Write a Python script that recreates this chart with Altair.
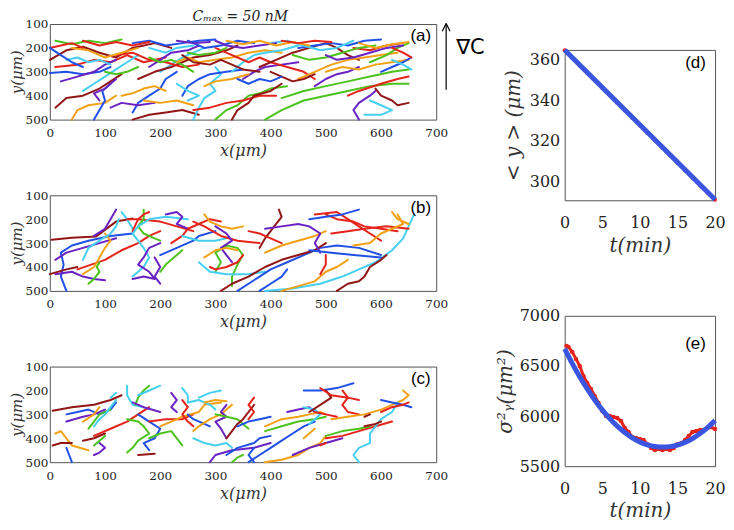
import altair as alt
import pandas as pd

COLOR_NAMES = ["blue", "orange", "green", "cyan", "purple", "red", "darkred"]
COLOR_HEX = ["#2050e6", "#f2a115", "#4cc21d", "#45d0f2", "#6b22c2", "#e5231a", "#931616"]

X_TICKS = [0, 100, 200, 300, 400, 500, 600, 700]
Y_TICKS = [100, 200, 300, 400, 500]

TRAJ_A = [
    ("darkred", [(0,250),(30,210),(60,195),(90,220),(120,240),(150,200),(190,180),(220,200)]),
    ("red", [(10,280),(50,270),(80,250),(110,260),(140,230),(170,260),(210,240)]),
    ("blue", [(0,305),(30,300),(60,310),(90,300),(110,280)]),
    ("purple", [(20,340),(50,320),(80,300),(100,270),(120,250)]),
    ("green", [(10,170),(40,185),(70,170),(100,180),(130,165)]),
    ("orange", [(40,500),(50,460),(70,440),(100,430),(120,400)]),
    ("darkred", [(10,450),(30,410),(60,400),(90,370),(110,340),(130,310)]),
    ("cyan", [(60,380),(80,350),(100,320),(120,290),(140,260),(160,230)]),
    ("blue", [(80,500),(90,460),(100,420),(95,380),(110,350)]),
    ("purple", [(90,420),(80,390),(100,370),(120,330)]),
    ("blue", [(150,470),(160,430),(180,400),(200,370),(210,330),(230,300)]),
    ("orange", [(130,400),(150,390),(170,370),(190,360),(210,380)]),
    ("darkred", [(150,500),(180,480),(210,470),(240,460),(270,480)]),
    ("cyan", [(200,300),(220,270),(240,240),(260,220),(280,200)]),
    ("darkred", [(160,330),(190,300),(220,280),(240,260),(260,240),(290,230),(320,210),(340,190)]),
    ("red", [(120,230),(150,220),(180,250),(210,260),(240,280),(270,270)]),
    ("blue", [(150,180),(180,170),(210,190),(240,180),(270,170),(300,165)]),
    ("purple", [(180,280),(200,250),(220,220),(250,210),(270,190)]),
    ("green", [(180,240),(200,260),(220,250),(240,270),(260,300)]),
    ("orange", [(230,260),(250,240),(270,260),(300,250),(330,240),(360,220),(390,210),(420,220)]),
    ("cyan", [(260,500),(270,450),(280,410),(300,380),(290,350),(310,310),(300,280)]),
    ("green", [(300,500),(320,460),(340,440),(360,400),(380,390),(400,370),(430,360)]),
    ("red", [(260,460),(290,450),(320,430),(350,420),(380,400),(410,400)]),
    ("blue", [(240,400),(250,360),(270,330),(290,310),(320,300),(350,290)]),
    ("darkred", [(330,500),(340,460),(360,430),(370,400),(400,380),(420,350)]),
    ("purple", [(350,330),(370,300),(390,280),(420,270),(450,260)]),
    ("cyan", [(330,300),(350,260),(370,230),(390,220),(420,210),(450,190)]),
    ("green", [(390,500),(420,460),(460,420),(500,400),(540,380),(580,360),(620,350),(650,350)]),
    ("green", [(420,410),(460,380),(500,360),(540,340),(580,320),(620,300),(650,290)]),
    ("red", [(300,200),(330,230),(360,260),(380,240),(400,260),(430,280),(460,300),(480,330)]),
    ("darkred", [(380,280),(410,250),(440,220),(470,200),(500,180),(520,200),(540,230),(560,250)]),
    ("blue", [(450,200),(480,190),(510,180),(540,190),(570,170),(600,165)]),
    ("orange", [(450,330),(480,300),(510,270),(540,250),(570,240),(600,230),(630,220)]),
    ("purple", [(560,500),(550,460),(560,430),(580,400),(590,380)]),
    ("cyan", [(580,420),(600,440),(620,460),(600,480),(570,480)]),
    ("darkred", [(590,370),(600,400),(620,420),(630,440),(650,430)]),
    ("red", [(540,400),(560,380),(600,350),(630,330),(650,320)]),
    ("purple", [(480,360),(500,330),(520,310),(540,300),(560,280)]),
    ("orange", [(500,300),(530,280),(560,290),(590,270),(620,260),(650,250)]),
    ("cyan", [(400,180),(430,170),(460,190),(490,210),(520,200),(550,170)]),
    ("blue", [(600,300),(620,280),(640,260),(655,240)]),
    ("green", [(580,260),(610,230),(630,200),(650,180)]),
    ("red", [(550,200),(580,210),(610,190),(640,180)]),
    ("darkred", [(400,300),(420,320),(440,340),(460,330),(480,310)]),
    ("orange", [(40,200),(70,210),(100,240),(130,220),(160,200)]),
    ("blue", [(250,170),(280,200),(310,190),(340,170),(370,180)]),
    ("purple", [(300,170),(320,190),(350,200),(380,190),(410,180)]),
    ("red", [(0,200),(20,190),(40,180),(60,200)]),
    ("cyan", [(30,250),(50,240),(70,260),(90,250),(110,270)]),
    ("green", [(100,300),(120,310),(140,300),(160,280)]),
    ("orange", [(280,360),(300,340),(330,330),(360,310)]),
    ("purple", [(110,450),(130,430),(160,440),(190,430)]),
    ("red", [(60,170),(90,190),(120,175),(150,190),(180,175)]),
    ("orange", [(320,170),(350,185),(380,170),(410,190),(440,175),(470,190)]),
    ("cyan", [(180,200),(210,220),(230,200),(260,190)]),
    ("green", [(440,230),(470,250),(500,240),(530,220),(560,200),(590,190)]),
    ("purple", [(500,230),(520,250),(550,240),(580,220),(610,200),(640,190)]),
    ("blue", [(340,330),(360,350),(380,330),(400,340),(420,320)]),
    ("cyan", [(230,350),(250,380),(270,400),(250,420)]),
    ("darkred", [(240,230),(260,260),(290,270),(310,250),(330,270),(350,290),(380,300)]),
    ("orange", [(170,420),(200,430),(230,420),(260,440)]),
    ("blue", [(0,200),(20,230),(40,260),(60,280)]),
    ("red", [(620,200),(640,220),(655,240)]),
    ("orange", [(560,180),(590,200),(620,185),(650,175)]),
    ("cyan", [(620,250),(640,270),(655,290)]),
    ("purple", [(230,170),(260,180),(290,175)]),
    ("green", [(250,220),(270,230),(300,220),(320,200)]),
    ("red", [(420,170),(450,180),(480,170),(510,175)]),
]

TRAJ_B = [
    ("darkred", [(3,286),(40,278),(84,272),(120,210),(150,197)]),
    ("blue", [(30,500),(20,440),(25,390),(20,340),(40,310),(70,290),(110,270),(150,260)]),
    ("purple", [(10,370),(30,340),(60,320),(90,300),(120,280)]),
    ("purple", [(10,430),(40,420),(60,440),(80,450),(100,455)]),
    ("darkred", [(0,430),(30,410),(50,400)]),
    ("red", [(50,410),(100,370),(130,330),(160,300),(180,270),(200,250)]),
    ("orange", [(60,430),(80,400),(90,360),(100,320),(110,290),(100,260)]),
    ("green", [(70,470),(80,450),(90,420),(85,400),(90,380)]),
    ("cyan", [(60,370),(70,320),(90,290),(110,260),(120,230),(125,200)]),
    ("purple", [(120,160),(110,200),(100,240),(80,270)]),
    ("cyan", [(130,170),(140,200),(150,240)]),
    ("red", [(140,200),(160,200),(200,210),(230,230),(260,250)]),
    ("green", [(170,160),(170,200),(160,230),(170,260),(190,280),(200,290)]),
    ("red", [(150,250),(160,200),(170,180),(180,170)]),
    ("cyan", [(150,440),(170,400),(180,360),(170,320),(160,290),(150,260),(160,230),(180,200),(210,190),(250,200)]),
    ("purple", [(150,450),(170,440),(190,450),(180,420),(160,390),(170,360),(180,320),(200,300)]),
    ("blue", [(200,350),(230,320),(260,290),(270,270),(300,250)]),
    ("purple", [(210,180),(230,170),(240,190),(230,220),(250,240)]),
    ("green", [(200,420),(210,390),(220,370),(230,350),(240,330)]),
    ("purple", [(200,470),(190,440),(200,400),(190,360)]),
    ("red", [(220,300),(240,270),(250,240),(270,220),(290,200),(310,210)]),
    ("orange", [(280,180),(290,210),(310,230),(330,240),(350,230)]),
    ("cyan", [(240,270),(270,290),(300,290),(320,280)]),
    ("red", [(260,210),(280,230),(310,270),(340,290),(380,300)]),
    ("green", [(300,420),(310,380),(300,340),(320,310),(340,320),(350,350),(340,390),(330,440),(330,480)]),
    ("cyan", [(270,380),(290,420),(320,430),(360,430),(390,420)]),
    ("purple", [(300,230),(320,260),(330,290),(310,320),(320,350),(330,380)]),
    ("red", [(290,400),(300,410),(320,400),(340,380),(350,350)]),
    ("orange", [(280,360),(300,330),(320,320),(340,330)]),
    ("blue", [(340,500),(360,470),(380,440),(400,410),(430,380),(460,350),(490,320),(520,310),(560,320),(600,350)]),
    ("darkred", [(310,500),(330,470),(360,440),(390,400),(420,370),(450,350),(480,330),(500,300)]),
    ("darkred", [(380,320),(390,280),(400,250),(410,220),(420,190),(415,160)]),
    ("blue", [(380,500),(400,470),(420,440),(430,410)]),
    ("cyan", [(390,500),(440,490),(490,470),(530,440),(560,410),(590,380),(620,330),(640,280),(650,230),(660,180)]),
    ("orange", [(390,340),(420,310),(450,290),(480,270),(500,250)]),
    ("orange", [(420,500),(450,480),(480,460),(500,420),(520,400),(540,370)]),
    ("purple", [(390,240),(420,230),(450,220),(470,230),(490,260),(480,300),(490,340)]),
    ("red", [(420,300),(400,280),(380,260),(360,250)]),
    ("red", [(500,180),(520,200),(550,210),(570,230),(600,240),(630,250)]),
    ("red", [(480,180),(520,170),(540,200),(560,230),(580,260),(600,290)]),
    ("blue", [(470,200),(500,190),(530,180),(560,160)]),
    ("red", [(510,260),(540,250),(570,240),(610,230),(650,240)]),
    ("orange", [(550,310),(580,300),(600,260),(620,240),(640,220),(630,180)]),
    ("orange", [(620,170),(630,200),(650,220)]),
    ("red", [(500,350),(500,390),(490,430)]),
    ("darkred", [(520,500),(540,470),(560,460),(570,440),(580,400),(600,370),(610,350)]),
    ("blue", [(470,330),(510,340),(550,350),(600,360)]),
]

TRAJ_C = [
    ("darkred", [(5,285),(40,270),(80,260),(110,240),(130,220)]),
    ("blue", [(30,300),(50,290),(70,280),(90,300),(110,280),(120,250)]),
    ("purple", [(30,330),(60,310),(80,300),(100,280)]),
    ("orange", [(10,380),(20,370),(30,400),(40,430),(70,450)]),
    ("darkred", [(5,430),(20,420),(40,420)]),
    ("blue", [(30,440),(35,470),(40,500)]),
    ("purple", [(80,470),(90,460),(100,440),(90,420)]),
    ("darkred", [(60,410),(80,400),(100,380)]),
    ("red", [(80,390),(110,360),(140,330),(160,300),(180,270)]),
    ("green", [(70,360),(80,330),(90,300),(110,280)]),
    ("cyan", [(80,350),(90,320),(100,300),(110,270),(120,240)]),
    ("orange", [(90,270),(80,300),(60,330)]),
    ("green", [(80,430),(90,410),(100,390)]),
    ("cyan", [(110,230),(120,210)]),
    ("cyan", [(140,180),(140,220),(150,260),(170,270)]),
    ("green", [(180,180),(170,200),(160,230),(155,260)]),
    ("purple", [(150,250),(170,270),(200,290)]),
    ("cyan", [(200,180),(180,200),(160,220)]),
    ("green", [(140,320),(160,330),(170,350),(180,380),(160,410),(150,440),(140,460)]),
    ("blue", [(160,300),(180,330),(200,360),(190,400),(170,420),(180,450)]),
    ("darkred", [(160,470),(190,465)]),
    ("green", [(180,400),(200,380),(220,370),(230,400),(240,430)]),
    ("red", [(180,330),(210,320),(240,320),(260,300)]),
    ("orange", [(200,350),(220,330),(240,310),(270,290),(280,260),(310,250)]),
    ("purple", [(220,210),(230,240),(220,270),(230,290)]),
    ("cyan", [(240,190),(250,220),(250,250),(270,240),(290,260),(300,280)]),
    ("red", [(240,240),(250,270),(240,300),(250,330),(260,350)]),
    ("blue", [(250,300),(260,320),(280,340),(290,350)]),
    ("orange", [(260,370),(270,350),(290,320),(310,300),(320,280),(330,260)]),
    ("cyan", [(270,230),(290,210),(310,200)]),
    ("orange", [(280,250),(300,240),(320,245)]),
    ("cyan", [(260,400),(280,420),(300,430),(320,420),(330,440)]),
    ("purple", [(290,500),(300,470),(330,450),(370,440),(400,420)]),
    ("purple", [(320,260),(310,290),(320,310),(300,330),(310,360),(320,400)]),
    ("green", [(300,300),(320,310),(340,320),(350,340),(360,360)]),
    ("darkred", [(320,400),(330,370),(340,340),(350,320),(360,290),(370,260)]),
    ("blue", [(340,350),(360,330),(380,320),(400,310)]),
    ("red", [(370,230),(360,260),(370,290),(360,320)]),
    ("blue", [(320,470),(340,440),(370,420),(380,400),(400,390)]),
    ("blue", [(360,500),(380,470),(400,440),(420,410),(440,380),(460,350),(480,330)]),
    ("blue", [(370,500),(360,470),(370,440)]),
    ("green", [(330,500),(340,480),(350,470)]),
    ("purple", [(430,290),(450,280),(470,270),(480,290)]),
    ("green", [(390,370),(420,350),(450,330),(480,320),(500,310)]),
    ("orange", [(390,350),(420,320),(450,310),(470,300),(490,290),(500,300)]),
    ("cyan", [(460,270),(480,280),(490,300),(480,320),(470,340)]),
    ("orange", [(390,500),(420,490),(450,470),(470,440),(490,420),(500,390)]),
    ("orange", [(460,400),(470,380),(480,360)]),
    ("purple", [(440,470),(470,440),(500,420),(530,400)]),
    ("red", [(500,400),(530,390),(560,370),(590,350),(620,330)]),
    ("green", [(500,390),(530,370),(560,360),(580,350)]),
    ("red", [(490,430),(500,420)]),
    ("blue", [(460,200),(490,200),(520,190),(550,170)]),
    ("darkred", [(470,290),(490,260),(510,230),(500,200)]),
    ("red", [(490,190),(510,220),(540,230),(560,240)]),
    ("red", [(530,200),(540,230),(530,260),(540,290),(560,300)]),
    ("orange", [(510,320),(540,310),(570,300),(600,280),(620,260),(640,240),(650,220),(640,200)]),
    ("red", [(480,290),(500,300),(520,310)]),
    ("cyan", [(560,500),(550,470),(560,440),(580,420),(580,380),(590,350),(600,320),(620,290),(630,250)]),
    ("darkred", [(570,350),(590,340),(600,330)]),
    ("blue", [(600,240),(620,250),(640,260),(655,270)]),
    ("red", [(600,290),(620,270),(640,260),(650,250)]),
    ("darkred", [(570,310),(580,300)]),
]

T_D = [0, 1, 2, 3, 4, 5, 6, 7, 8, 9, 10, 11, 12, 13, 14, 15, 16, 17, 18, 19, 20]
Y_D = [364.8, 361.1, 357.3, 353.6, 349.9, 346.2, 342.5, 338.8, 335.0, 331.3, 327.6,
       323.9, 320.2, 316.5, 312.8, 309.0, 305.3, 301.6, 297.9, 294.2, 290.9]
FIT_D_T = [0, 20]
FIT_D_Y = [365, 291]

T_E = [0.25, 0.5, 1, 1.5, 2, 2.5, 3, 3.5, 4, 4.5, 5, 5.5, 6, 6.5, 7, 7.5, 8, 8.5, 9, 9.5, 10,
       10.5, 11, 11.5, 12, 12.5, 13, 13.5, 14, 14.5, 15, 15.5, 16, 16.5, 17, 17.5, 18, 18.5, 19, 19.5, 20]
Y_E = [6700, 6690, 6640, 6570, 6500, 6400, 6330, 6270, 6200, 6130, 6050, 6000, 6000, 5990, 5980,
       5950, 5880, 5840, 5790, 5780, 5770, 5760, 5720, 5680, 5660, 5670, 5660, 5670, 5660, 5680,
       5720, 5730, 5760, 5800, 5840, 5850, 5860, 5860, 5880, 5890, 5870]
FIT_E_T = [0, 1, 2, 3, 4, 5, 6, 7, 8, 9, 10, 11, 12, 13, 14, 15, 16, 17, 18, 19, 20]
FIT_E_Y = [6670, 6525, 6392, 6270, 6160, 6061, 5974, 5899, 5835, 5783, 5742, 5713, 5696,
           5690, 5695, 5710, 5737, 5775, 5825, 5885, 5955]

SERIF = "DejaVu Serif"
SANS = "Liberation Sans"
FRAME = "#555555"

LX = alt.X("x:Q", scale=alt.Scale(domain=[0, 700], nice=False),
           axis=alt.Axis(values=X_TICKS, title="x(μm)", labelFontSize=12, titleFontSize=16,
                         titlePadding=4, labelPadding=8, labelOverlap=False, labelFlush=False))
LY = alt.Y("y:Q", scale=alt.Scale(domain=[500, 100], nice=False),
           axis=alt.Axis(values=Y_TICKS, title="y(μm)", labelFontSize=12, titleFontSize=15,
                         titlePadding=1, labelPadding=2, labelOverlap=False, labelFlush=False))


def traj_df(traj):
    rows = []
    for i, (c, pts) in enumerate(traj):
        for j, (x, y) in enumerate(pts):
            rows.append({"id": i, "o": j, "x": x, "y": y, "c": c})
    return pd.DataFrame(rows)


def left_panel(traj, label, title=None, arrow=False):
    lines = alt.Chart(traj_df(traj)).mark_line(strokeWidth=2, strokeJoin="round", strokeCap="round").encode(
        x=LX, y=LY,
        color=alt.Color("c:N", scale=alt.Scale(domain=COLOR_NAMES, range=COLOR_HEX), legend=None),
        detail="id:N", order="o:Q")
    lab = alt.Chart(pd.DataFrame({"x": [672], "y": [152], "t": [label]})).mark_text(
        font=SANS, fontSize=17, color="black").encode(x=LX, y=LY, text="t:N")
    layers = [lines, lab]
    if title:
        ttl = alt.Chart(pd.DataFrame({"x": [345], "y": [70], "t": [title]})).mark_text(
            font=SERIF, fontStyle="italic", fontSize=14, color="#222").encode(x=LX, y=LY, text="t:N")
        layers.append(ttl)
    if arrow:
        shaft = alt.Chart(pd.DataFrame({"x": [718], "y": [375], "y2": [98]})).mark_rule(
            color="black", strokeWidth=1.2).encode(x=LX, y=LY, y2="y2:Q")
        head = alt.Chart(pd.DataFrame({"x": [718, 718], "x2": [711, 725], "y": [98, 98], "y2": [130, 130]})).mark_rule(
            color="black", strokeWidth=1.2).encode(x=LX, x2="x2:Q", y=LY, y2="y2:Q")
        grad = alt.Chart(pd.DataFrame({"x": [762], "y": [200], "t": ["∇C"]})).mark_text(
            font="DejaVu Sans", fontSize=21, color="black").encode(x=LX, y=LY, text="t:N")
        layers += [shaft, head, grad]
    return alt.layer(*layers).properties(width=388, height=96)


pa = left_panel(TRAJ_A, "(a)", title="Cₘₐₓ = 50 nM", arrow=True)
pb = left_panel(TRAJ_B, "(b)")
pc = left_panel(TRAJ_C, "(c)")
left = alt.vconcat(pa, pb, pc, spacing=76, bounds="flush")

TX = alt.X("t:Q", scale=alt.Scale(domain=[0, 20], nice=False),
           axis=alt.Axis(values=[0, 5, 10, 15, 20], format="d", title="t(min)", labelFontSize=16,
                         titleFontSize=20, labelPadding=14, titlePadding=5, labelOverlap=False, labelFlush=False))

# panel d
DY = alt.Y("v:Q", scale=alt.Scale(domain=[290.6, 365], nice=False, zero=False),
           axis=alt.Axis(values=[300, 320, 340, 360], format="d", title="< y > (μm)", labelFontSize=16,
                         titleFontSize=20, labelPadding=5, titlePadding=6, labelOverlap=False, labelFlush=False))
d_pts = alt.Chart(pd.DataFrame({"t": T_D, "v": Y_D})).mark_circle(color="#e5231a", size=16, opacity=1).encode(x=TX, y=DY)
d_fit = alt.Chart(pd.DataFrame({"t": FIT_D_T, "v": FIT_D_Y})).mark_line(color="#3a55e0", strokeWidth=5).encode(x=TX, y=DY)
d_lab = alt.Chart(pd.DataFrame({"t": [17.4], "v": [358.6], "s": ["(d)"]})).mark_text(
    font=SANS, fontSize=17, color="black").encode(x=TX, y=DY, text="s:N")
pd_chart = alt.layer(d_pts, d_fit, d_lab).properties(width=151, height=151)

# panel e
EY = alt.Y("v:Q", scale=alt.Scale(domain=[5500, 7000], nice=False, zero=False),
           axis=alt.Axis(values=[5500, 6000, 6500, 7000], format="d", title="σ²ᵧ(μm²)", labelFontSize=16,
                         titleFontSize=20, labelPadding=5, titlePadding=4, labelOverlap=False, labelFlush=False))
e_df = pd.DataFrame({"t": T_E, "v": Y_E})
e_line = alt.Chart(e_df).mark_line(color="#e5231a", strokeWidth=3).encode(x=TX, y=EY)
e_pts = alt.Chart(e_df).mark_circle(color="#e5231a", size=20, opacity=1).encode(x=TX, y=EY)
e_fit = alt.Chart(pd.DataFrame({"t": FIT_E_T, "v": FIT_E_Y})).mark_line(
    color="#3a55e0", strokeWidth=5, interpolate="monotone").encode(x=TX, y=EY)
e_lab = alt.Chart(pd.DataFrame({"t": [17.4], "v": [6714], "s": ["(e)"]})).mark_text(
    font=SANS, fontSize=17, color="black").encode(x=TX, y=EY, text="s:N")
pe_chart = alt.layer(e_line, e_pts, e_fit, e_lab).properties(width=151, height=151)


def spacer(h):
    return alt.Chart(pd.DataFrame({"k": [0]})).mark_point(opacity=0).encode(
        x=alt.value(0), y=alt.value(0)).properties(width=151, height=h,
                                                   view=alt.ViewBackground(strokeOpacity=0))


right = alt.vconcat(spacer(26), pd_chart, spacer(116), pe_chart, spacing=0, bounds="flush")

chart = alt.hconcat(left, right, spacing=517, bounds="flush").properties(
    padding={"left": 0, "top": 0, "right": 0, "bottom": 0}
).configure_view(stroke=FRAME, strokeWidth=1).configure_axis(
    labelFont=SERIF, titleFont=SERIF, titleFontStyle="italic", titleFontWeight="normal",
    grid=False, domain=False, ticks=False, labelColor="#222", titleColor="#333",
    labelOverlap=False, labelFlush=False
)

chart.save("out.html", embed_options={"renderer": "svg", "actions": False})
